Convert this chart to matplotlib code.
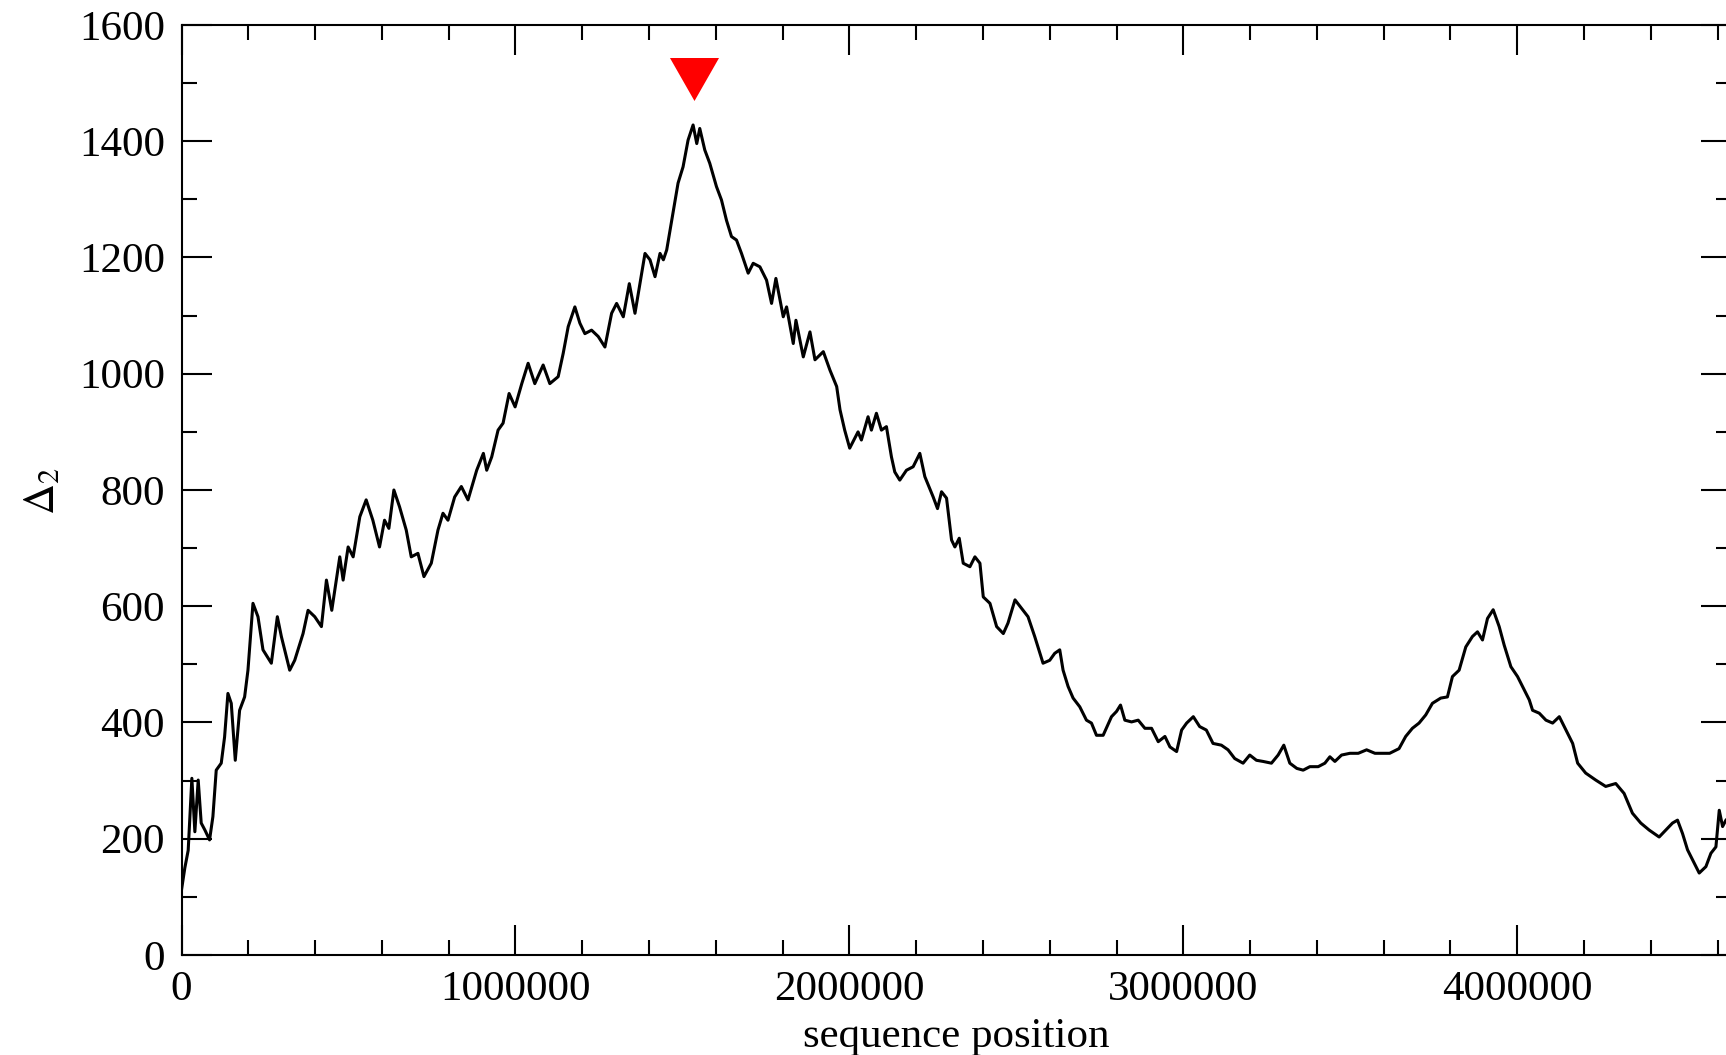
import numpy as np
import matplotlib
matplotlib.use('Agg')
import matplotlib.pyplot as plt
from matplotlib import ticker

# positions in Mbp
pos_mb = [0.000, 0.010, 0.020, 0.031, 0.040, 0.050, 0.059, 0.070, 0.084, 0.094,
          0.104, 0.119, 0.129, 0.139, 0.149, 0.161, 0.174, 0.189, 0.199, 0.214,
          0.229, 0.244, 0.269, 0.287, 0.299, 0.324, 0.339, 0.364, 0.379, 0.399,
          0.419, 0.434, 0.450, 0.474, 0.484, 0.499, 0.514, 0.534, 0.553, 0.573,
          0.593, 0.608, 0.621, 0.636, 0.653, 0.673, 0.688, 0.708, 0.726, 0.748,
          0.768, 0.783, 0.798, 0.818, 0.838, 0.858, 0.884, 0.904, 0.914, 0.929,
          0.948, 0.963, 0.981, 0.999, 1.019, 1.038, 1.058, 1.083, 1.103, 1.128,
          1.143, 1.158, 1.178, 1.193, 1.208, 1.228, 1.248, 1.268, 1.288, 1.303,
          1.323, 1.341, 1.358, 1.373, 1.388, 1.403, 1.418, 1.433, 1.443, 1.453,
          1.468, 1.487, 1.502, 1.517, 1.532, 1.543, 1.552, 1.567, 1.582, 1.602,
          1.617, 1.632, 1.647, 1.662, 1.677, 1.697, 1.712, 1.732, 1.752, 1.767,
          1.780, 1.802, 1.812, 1.832, 1.840, 1.862, 1.882, 1.897, 1.922, 1.942,
          1.962, 1.972, 1.986, 2.001, 2.026, 2.036, 2.056, 2.066, 2.081, 2.096,
          2.111, 2.126, 2.136, 2.151, 2.171, 2.191, 2.211, 2.226, 2.251, 2.264,
          2.276, 2.291, 2.306, 2.316, 2.329, 2.341, 2.361, 2.376, 2.391, 2.401,
          2.421, 2.441, 2.461, 2.475, 2.496, 2.516, 2.535, 2.555, 2.580, 2.600,
          2.615, 2.630, 2.640, 2.655, 2.670, 2.690, 2.710, 2.725, 2.740, 2.760,
          2.785, 2.800, 2.812, 2.825, 2.845, 2.865, 2.885, 2.905, 2.925, 2.945,
          2.960, 2.980, 2.995, 3.010, 3.030, 3.049, 3.069, 3.089, 3.114, 3.134,
          3.154, 3.179, 3.199, 3.219, 3.239, 3.264, 3.284, 3.301, 3.319, 3.340,
          3.359, 3.379, 3.404, 3.424, 3.439, 3.454, 3.474, 3.499, 3.524, 3.549,
          3.574, 3.599, 3.618, 3.646, 3.666, 3.686, 3.706, 3.726, 3.746, 3.771,
          3.791, 3.806, 3.826, 3.846, 3.866, 3.881, 3.896, 3.911, 3.928, 3.946,
          3.961, 3.981, 4.001, 4.016, 4.036, 4.046, 4.066, 4.086, 4.106, 4.126,
          4.146, 4.166, 4.181, 4.205, 4.235, 4.265, 4.295, 4.320, 4.345, 4.370,
          4.395, 4.425, 4.445, 4.465, 4.480, 4.495, 4.510, 4.530, 4.545, 4.565,
          4.580, 4.595, 4.605, 4.615, 4.625, 4.639]
delta2 = [112, 150, 180, 304, 212, 301, 227, 215, 198, 238,
          318, 330, 375, 450, 433, 335, 421, 444, 490, 605,
          582, 525, 502, 582, 548, 490, 507, 553, 593, 582,
          565, 645, 593, 685, 645, 702, 685, 754, 783, 748,
          702, 748, 734, 800, 771, 731, 685, 691, 651, 674,
          731, 760, 748, 788, 806, 783, 834, 863, 834, 857,
          903, 915, 966, 943, 983, 1018, 983, 1015, 983, 995,
          1035, 1081, 1115, 1087, 1069, 1075, 1064, 1046, 1104, 1121,
          1098, 1155, 1104, 1155, 1207, 1196, 1167, 1207, 1196, 1213,
          1264, 1328, 1356, 1402, 1428, 1396, 1422, 1385, 1362, 1322,
          1299, 1264, 1236, 1230, 1207, 1173, 1190, 1184, 1161, 1121,
          1164, 1098, 1115, 1052, 1092, 1029, 1072, 1024, 1038, 1006,
          978, 938, 903, 872, 900, 886, 926, 903, 932, 903,
          909, 857, 831, 817, 834, 840, 863, 823, 788, 768,
          797, 786, 714, 702, 717, 674, 668, 685, 674, 616,
          605, 565, 553, 571, 611, 596, 582, 548, 502, 507,
          519, 525, 490, 462, 442, 427, 404, 399, 378, 378,
          410, 419, 430, 404, 401, 404, 390, 390, 367, 376,
          358, 350, 387, 399, 410, 393, 387, 364, 361, 353,
          338, 330, 344, 335, 333, 330, 344, 361, 330, 321,
          318, 324, 324, 330, 341, 333, 344, 347, 347, 353,
          347, 347, 347, 355, 376, 390, 399, 413, 433, 442,
          444, 479, 490, 530, 548, 556, 542, 579, 594, 565,
          533, 496, 479, 462, 439, 421, 416, 404, 399, 410,
          387, 364, 330, 313, 301, 290, 295, 278, 244, 227,
          215, 203, 215, 227, 232, 209, 181, 158, 141, 152,
          175, 186, 249, 221, 232, 240]

# red marker above the maximum
mark_pos = 1.534e6
mark_val = 1507

plt.rcParams['font.family'] = 'Liberation Serif'
plt.rcParams['mathtext.fontset'] = 'stix'

fig = plt.figure(figsize=(17.26, 10.55), dpi=100)
ax = fig.add_axes([0.10516, 0.09479, 0.8977, 0.88152])

ax.plot(np.array(pos_mb) * 1e6, delta2, color='black', lw=2.2)

tri = [(-1.0, 0.877), (1.0, 0.877), (0.0, -0.877), (-1.0, 0.877)]
ax.plot([mark_pos], [mark_val], marker=tri, ms=35.3, color='#ff0000',
        markeredgewidth=0, linestyle='none')

ax.set_xlim(0, 4.64e6)
ax.set_ylim(0, 1600)
ax.xaxis.set_major_locator(ticker.MultipleLocator(1000000))
ax.xaxis.set_minor_locator(ticker.MultipleLocator(200000))
ax.xaxis.set_major_formatter(ticker.FormatStrFormatter('%d'))
ax.yaxis.set_major_locator(ticker.MultipleLocator(200))
ax.yaxis.set_minor_locator(ticker.MultipleLocator(100))

ax.tick_params(which='both', direction='in', top=True, right=True, width=1.5,
               labelsize=31, colors='black')
ax.tick_params(which='major', length=21.6)
ax.tick_params(which='minor', length=10.8)
ax.tick_params(axis='x', pad=11)
ax.tick_params(axis='y', pad=12)
for sp in ax.spines.values():
    sp.set_linewidth(1.5)

ax.set_xlabel('sequence position', fontsize=31)
ax.xaxis.set_label_coords(0.5, -0.067)
ax.set_ylabel(r'$\Delta_2$', fontsize=31)
ax.yaxis.set_label_coords(-0.0765, 0.499)

fig.savefig('out.png', dpi=100)
